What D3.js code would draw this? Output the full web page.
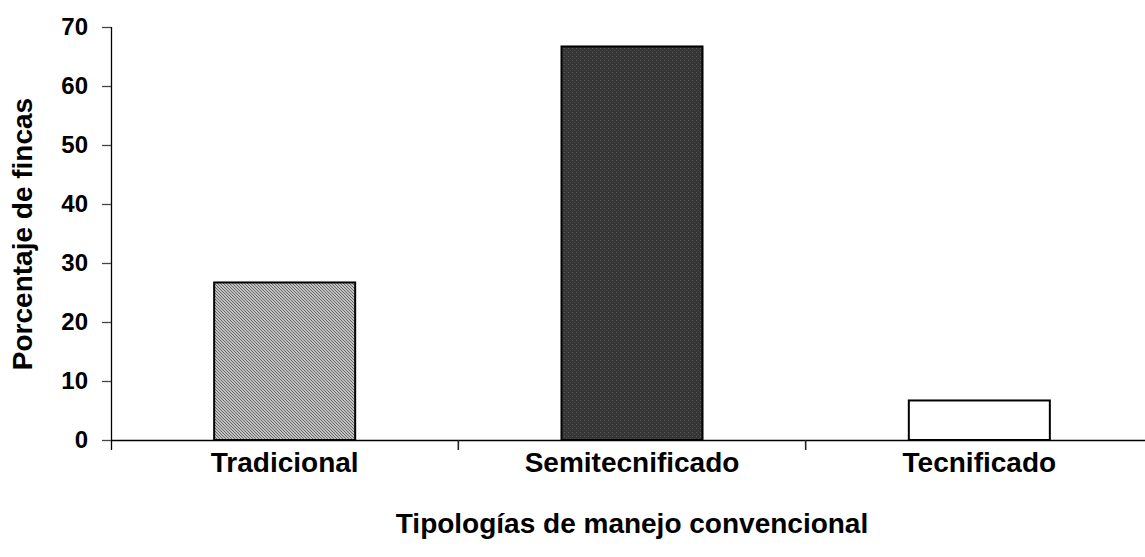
<!DOCTYPE html>
<html>
<head>
<meta charset="utf-8">
<script src="https://cdn.jsdelivr.net/npm/d3@7"></script>
<style>
html,body{margin:0;padding:0;background:#fff;}
svg{display:block;font-family:"Liberation Sans",Arial,sans-serif;}
</style>
</head>
<body>
<svg id="chart" width="1145" height="557"></svg>
<script>
const categories = ["Tradicional", "Semitecnificado", "Tecnificado"];
const values = [26.7, 66.7, 6.7];
const yTicks = [0, 10, 20, 30, 40, 50, 60, 70];
const fills = ["url(#patDiag)", "url(#patDots)", "#ffffff"];
const yTitle = "Porcentaje de fincas";
const xTitle = "Tipologías de manejo convencional";

(function(){
const svg = d3.select("#chart");
const defs = svg.append("defs");

// fine diagonal hatch
const p1 = defs.append("pattern").attr("id","patDiag").attr("patternUnits","userSpaceOnUse")
  .attr("width",3).attr("height",3);
p1.append("rect").attr("width",3).attr("height",3).attr("fill","#ebebeb");
p1.append("path").attr("d","M0,0 L3,3 M-1,2 L1,4 M2,-1 L4,1").attr("stroke","#606060").attr("stroke-width",1.1);

// dark dotted
const p2 = defs.append("pattern").attr("id","patDots").attr("patternUnits","userSpaceOnUse")
  .attr("width",4).attr("height",4);
p2.append("rect").attr("width",4).attr("height",4).attr("fill","#363636");
p2.append("rect").attr("x",0).attr("y",0).attr("width",1).attr("height",1).attr("fill","#5a5a5a");
p2.append("rect").attr("x",2).attr("y",2).attr("width",1).attr("height",1).attr("fill","#4a4a4a");

const mLeft = 111, mTop = 27, mBottom = 440, mRight = 1153;

const x = d3.scaleBand().domain(categories).range([mLeft, mRight]).paddingInner(0).paddingOuter(0);
const y = d3.scaleLinear().domain([0, 70]).range([mBottom, mTop]);
const barW = x.bandwidth() * 0.406;

// bars
svg.append("g").selectAll("rect").data(categories).join("rect")
  .attr("x", (d) => x(d) + x.bandwidth()/2 - barW/2)
  .attr("y", (d, i) => y(values[i]))
  .attr("width", barW)
  .attr("height", (d, i) => y(0) - y(values[i]))
  .attr("fill", (d, i) => fills[i])
  .attr("stroke", "#000")
  .attr("stroke-width", 2);

// y axis
const yAxis = svg.append("g").attr("transform", `translate(${mLeft},0)`)
  .call(d3.axisLeft(y).tickValues(yTicks).tickSize(9).tickPadding(14).tickSizeOuter(0));
yAxis.select(".domain").attr("d", `M0.5,${mTop}V${mBottom+10}`).attr("stroke","#000").attr("stroke-width",1.3);
yAxis.selectAll(".tick line").attr("stroke","#444").attr("stroke-width",1.3);
yAxis.selectAll("text").attr("font-size", 24).attr("font-weight","bold").attr("fill","#000");

// x axis
const xAxis = svg.append("g").attr("transform", `translate(0,${mBottom})`)
  .call(d3.axisBottom(x).tickSize(0).tickPadding(12));
xAxis.select(".domain").attr("d", `M${mLeft},0.5H${mRight}`).attr("stroke","#000").attr("stroke-width",1.3);
xAxis.selectAll("text").attr("font-size", 28).attr("font-weight","bold").attr("fill","#000");
// category separators
svg.append("g").selectAll("line").data(categories.slice(1)).join("line")
  .attr("x1", d => x(d)).attr("x2", d => x(d))
  .attr("y1", mBottom).attr("y2", mBottom + 10)
  .attr("stroke","#222").attr("stroke-width",1.6);

// titles
svg.append("text").attr("x", (mLeft + mRight)/2).attr("y", 533)
  .attr("text-anchor","middle").attr("font-size",28).attr("font-weight","bold").text(xTitle);
svg.append("text").attr("transform", `translate(32,234) rotate(-90)`)
  .attr("text-anchor","middle").attr("font-size",28).attr("font-weight","bold").text(yTitle);
})();
</script>
</body>
</html>
